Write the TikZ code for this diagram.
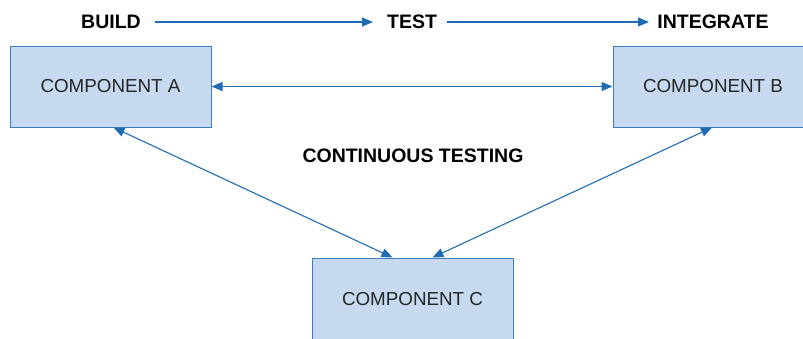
\documentclass[tikz,border=0pt]{standalone}
\usepackage{fontspec}
\setmainfont{Liberation Sans}
\usetikzlibrary{arrows.meta, positioning}
\usepackage{xcolor}
\definecolor{boxfill}{HTML}{C6D9F0}
\definecolor{boxline}{HTML}{3A7DC0}
\definecolor{flow}{HTML}{1F6CB4}

\begin{document}
\begin{tikzpicture}[x=1pt,y=-1pt,>={Triangle[length=11pt,width=9pt]},draw=flow,line width=1.1pt]
    \tikzstyle{component}=[draw=boxline, fill=boxfill, line width=1pt, rectangle, minimum width=201pt, minimum height=81pt, inner sep=0pt, font=\fontsize{18.8}{20}\selectfont, text=black!85]
    \tikzstyle{stage}=[font=\bfseries\fontsize{19.5}{21}\selectfont, inner sep=2pt]
    \useasboundingbox (0,0) rectangle (803,338);

    % stages along the top
    \node[stage] (build) at (111,22) {BUILD};
    \node[stage] (test) at (412,22) {TEST};
    \node[stage] (integrate) at (713,22) {INTEGRATE};

    % components
    \node[component] (comp-A) at (110.5,86.5) {COMPONENT A};
    \node[component, minimum width=200pt] (comp-B) at (713,86.5) {COMPONENT B};
    \node[component, minimum height=82pt] (comp-C) at (412.5,299) {COMPONENT C};

    \node[stage] (testing) at (413,156) {CONTINUOUS TESTING};

    \coordinate (b-out) at (155,22);
    \coordinate (t-in) at (373,22);
    \coordinate (t-out) at (447,22);
    \coordinate (i-in) at (649,22);
    \draw[->] (b-out) -- (t-in);
    \draw[->] (t-out) -- (i-in);

    \draw[<->] (comp-A.east) -- (comp-B.west);
    \draw[<->] ([xshift=3pt]comp-A.south) -- ([xshift=-20pt]comp-C.north);
    \draw[<->] ([xshift=-1pt]comp-B.south) -- ([xshift=20pt]comp-C.north);
\end{tikzpicture}
\end{document}
